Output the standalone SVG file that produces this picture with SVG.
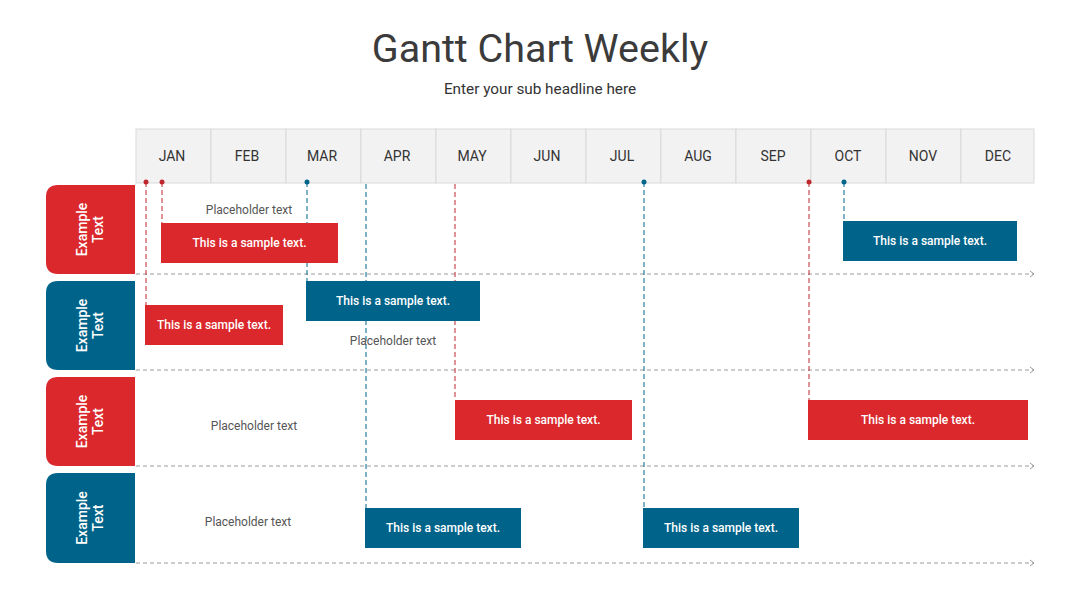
<svg xmlns="http://www.w3.org/2000/svg" width="1080" height="608" viewBox="0 0 1080 608">
<defs>
<style>
.title{font-family:Roboto,"Liberation Sans",sans-serif;font-size:39.5px;fill:#3b3b3b;text-anchor:middle}
.sub{font-family:Roboto,"Liberation Sans",sans-serif;font-size:15.3px;fill:#333;text-anchor:middle}
.mon{font-family:Roboto,"Liberation Sans",sans-serif;font-size:14px;fill:#333;text-anchor:middle}
.cell{fill:#f2f2f2;stroke:#d9d9d9;stroke-width:1}
.bt{font-family:Roboto,"Liberation Sans",sans-serif;font-size:12px;font-weight:500;fill:#fff;text-anchor:middle}
.ph{font-family:Roboto,"Liberation Sans",sans-serif;font-size:12px;fill:#555;text-anchor:middle}
.lab{font-family:Roboto,"Liberation Sans",sans-serif;font-size:14px;font-weight:500;fill:#fff;text-anchor:middle}
.red{fill:#da282c}
.blue{fill:#00648a}
.hl{stroke:#9a9a9a;stroke-width:1;stroke-dasharray:4 3;fill:none}
.vr{stroke:#c0272d;stroke-width:1;stroke-dasharray:5 3;fill:none}
.vb{stroke:#00648a;stroke-width:1;stroke-dasharray:5 3;fill:none}
</style>
<marker id="arr" markerWidth="8" markerHeight="8" refX="6" refY="4" orient="auto" markerUnits="userSpaceOnUse">
<path d="M2,1 L6,4 L2,7" fill="none" stroke="#9a9a9a" stroke-width="1"/>
</marker>
</defs>
<rect width="1080" height="608" fill="#fff"/>
<text class="title" x="540" y="62">Gantt Chart Weekly</text>
<text class="sub" x="540" y="94">Enter your sub headline here</text>

<g id="header">
<rect class="cell" x="136" y="129" width="75" height="54"/>
<rect class="cell" x="211" y="129" width="75" height="54"/>
<rect class="cell" x="286" y="129" width="75" height="54"/>
<rect class="cell" x="361" y="129" width="75" height="54"/>
<rect class="cell" x="436" y="129" width="75" height="54"/>
<rect class="cell" x="511" y="129" width="75" height="54"/>
<rect class="cell" x="586" y="129" width="75" height="54"/>
<rect class="cell" x="661" y="129" width="75" height="54"/>
<rect class="cell" x="736" y="129" width="75" height="54"/>
<rect class="cell" x="811" y="129" width="75" height="54"/>
<rect class="cell" x="886" y="129" width="75" height="54"/>
<rect class="cell" x="961" y="129" width="73" height="54"/>
<text class="mon" x="172" y="161">JAN</text>
<text class="mon" x="247" y="161">FEB</text>
<text class="mon" x="322" y="161">MAR</text>
<text class="mon" x="397" y="161">APR</text>
<text class="mon" x="472" y="161">MAY</text>
<text class="mon" x="547" y="161">JUN</text>
<text class="mon" x="622" y="161">JUL</text>
<text class="mon" x="698" y="161">AUG</text>
<text class="mon" x="773" y="161">SEP</text>
<text class="mon" x="848" y="161">OCT</text>
<text class="mon" x="923" y="161">NOV</text>
<text class="mon" x="998" y="161">DEC</text>
</g>

<g id="connectors">
<line class="hl" x1="136" y1="274" x2="1034" y2="274" marker-end="url(#arr)"/>
<line class="hl" x1="136" y1="370" x2="1034" y2="370" marker-end="url(#arr)"/>
<line class="hl" x1="136" y1="466" x2="1034" y2="466" marker-end="url(#arr)"/>
<line class="hl" x1="136" y1="563" x2="1034" y2="563" marker-end="url(#arr)"/>
<line class="vr" x1="146" y1="182" x2="146" y2="305"/>
<line class="vr" x1="162" y1="182" x2="162" y2="223"/>
<line class="vb" x1="307" y1="182" x2="307" y2="281"/>
<line class="vb" x1="366" y1="184" x2="366" y2="508"/>
<line class="vr" x1="455" y1="184" x2="455" y2="400"/>
<line class="vb" x1="644" y1="182" x2="644" y2="508"/>
<line class="vr" x1="809" y1="182" x2="809" y2="400"/>
<line class="vb" x1="844" y1="182" x2="844" y2="221"/>
<circle cx="146" cy="182" r="2.5" fill="#c0272d"/>
<circle cx="162" cy="182" r="2.5" fill="#c0272d"/>
<circle cx="307" cy="182" r="2.5" fill="#00648a"/>
<circle cx="644" cy="182" r="2.5" fill="#00648a"/>
<circle cx="809" cy="182" r="2.5" fill="#c0272d"/>
<circle cx="844" cy="182" r="2.5" fill="#00648a"/>
</g>

<g id="row1">
<path class="red" d="M135,185 V274 H58 Q46,274 46,262 V197 Q46,185 58,185 Z"/>
<g transform="translate(90,229.5) rotate(-90)"><text class="lab" x="0" y="-3">Example</text><text class="lab" x="0" y="13">Text</text></g>
</g>
<g id="row2">
<path class="blue" d="M135,281 V370 H58 Q46,370 46,358 V293 Q46,281 58,281 Z"/>
<g transform="translate(90,325.5) rotate(-90)"><text class="lab" x="0" y="-3">Example</text><text class="lab" x="0" y="13">Text</text></g>
</g>
<g id="row3">
<path class="red" d="M135,377 V466 H58 Q46,466 46,454 V389 Q46,377 58,377 Z"/>
<g transform="translate(90,421.5) rotate(-90)"><text class="lab" x="0" y="-3">Example</text><text class="lab" x="0" y="13">Text</text></g>
</g>
<g id="row4">
<path class="blue" d="M135,473 V563 H58 Q46,563 46,551 V485 Q46,473 58,473 Z"/>
<g transform="translate(90,518) rotate(-90)"><text class="lab" x="0" y="-3">Example</text><text class="lab" x="0" y="13">Text</text></g>
</g>

<g id="task1"><rect class="red" x="161" y="223" width="177" height="40"/><text class="bt" x="249.5" y="247">This is a sample text.</text></g>
<g id="task2"><rect class="blue" x="843" y="221" width="174" height="40"/><text class="bt" x="930" y="245">This is a sample text.</text></g>
<g id="task3"><rect class="blue" x="306" y="281" width="174" height="40"/><text class="bt" x="393" y="305">This is a sample text.</text></g>
<g id="task4"><rect class="red" x="145" y="305" width="138" height="40"/><text class="bt" x="214" y="329">This is a sample text.</text></g>
<g id="task5"><rect class="red" x="455" y="400" width="177" height="40"/><text class="bt" x="543.5" y="424">This is a sample text.</text></g>
<g id="task6"><rect class="red" x="808" y="400" width="220" height="40"/><text class="bt" x="918" y="424">This is a sample text.</text></g>
<g id="task7"><rect class="blue" x="365" y="508" width="156" height="40"/><text class="bt" x="443" y="532">This is a sample text.</text></g>
<g id="task8"><rect class="blue" x="643" y="508" width="156" height="40"/><text class="bt" x="721" y="532">This is a sample text.</text></g>

<g id="ph1"><text class="ph" x="249" y="214">Placeholder text</text></g>
<g id="ph2"><text class="ph" x="393" y="345">Placeholder text</text></g>
<g id="ph3"><text class="ph" x="254" y="430">Placeholder text</text></g>
<g id="ph4"><text class="ph" x="248" y="526">Placeholder text</text></g>
</svg>
